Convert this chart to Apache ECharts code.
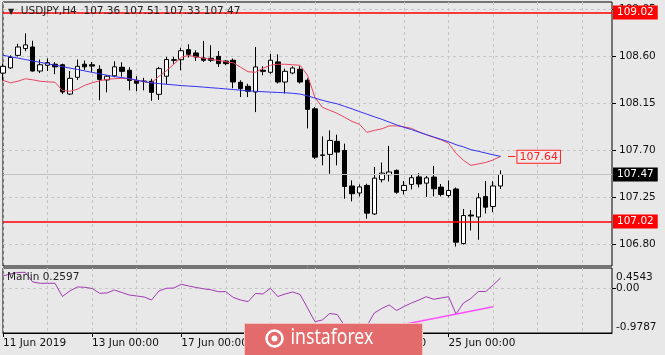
<!DOCTYPE html>
<html>
<head>
<meta charset="utf-8">
<script src="https://cdn.jsdelivr.net/npm/echarts@6/dist/echarts.min.js"></script>
<style>
  html, body { margin: 0; padding: 0; background: #e8e8e8; }
  #chart { width: 665px; height: 355px; }
</style>
</head>
<body>
<div id="chart"></div>
<script>
// USDJPY H4 candles
const open = [108.44, 108.49, 108.61, 108.675, 108.69, 108.46, 108.515, 108.525, 108.52, 108.24, 108.40, 108.525, 108.52, 108.477, 108.375, 108.414, 108.496, 108.467, 108.37, 108.364, 108.362, 108.237, 108.41, 108.568, 108.568, 108.664, 108.633, 108.585, 108.582, 108.60, 108.556, 108.563, 108.352, 108.314, 108.259, 108.467, 108.448, 108.547, 108.355, 108.441, 108.477, 108.371, 108.098, 107.657, 107.662, 107.787, 107.70, 107.36, 107.293, 107.365, 107.092, 107.42, 107.468, 107.509, 107.317, 107.375, 107.447, 107.387, 107.445, 107.349, 107.269, 107.331, 106.809, 107.082, 107.063, 107.26, 107.164, 107.36]
const close = [108.505, 108.59, 108.69, 108.71, 108.46, 108.52, 108.54, 108.50, 108.26, 108.39, 108.505, 108.50, 108.507, 108.38, 108.41, 108.50, 108.457, 108.37, 108.343, 108.359, 108.256, 108.483, 108.57, 108.563, 108.654, 108.62, 108.595, 108.563, 108.563, 108.531, 108.531, 108.355, 108.292, 108.266, 108.499, 108.457, 108.563, 108.355, 108.457, 108.489, 108.355, 108.093, 107.636, 107.653, 107.796, 107.684, 107.355, 107.286, 107.351, 107.10, 107.435, 107.483, 107.494, 107.30, 107.365, 107.439, 107.379, 107.437, 107.333, 107.279, 107.317, 106.822, 107.077, 107.073, 107.247, 107.157, 107.36, 107.47]
const high = [108.529, 108.61, 108.72, 108.82, 108.75, 108.57, 108.58, 108.545, 108.53, 108.46, 108.57, 108.56, 108.547, 108.515, 108.42, 108.553, 108.544, 108.496, 108.41, 108.395, 108.386, 108.50, 108.595, 108.595, 108.683, 108.716, 108.659, 108.748, 108.707, 108.652, 108.563, 108.579, 108.371, 108.338, 108.69, 108.505, 108.625, 108.62, 108.483, 108.505, 108.505, 108.39, 108.115, 107.835, 107.892, 107.851, 107.765, 107.413, 107.375, 107.381, 107.542, 107.585, 107.744, 107.518, 107.408, 107.47, 107.483, 107.456, 107.552, 107.379, 107.413, 107.346, 107.14, 107.13, 107.291, 107.408, 107.406, 107.51]
const low = [108.371, 108.48, 108.60, 108.65, 108.455, 108.44, 108.46, 108.43, 108.24, 108.23, 108.375, 108.47, 108.45, 108.18, 108.256, 108.40, 108.405, 108.275, 108.266, 108.275, 108.175, 108.184, 108.333, 108.53, 108.467, 108.59, 108.556, 108.547, 108.547, 108.499, 108.515, 108.295, 108.211, 108.211, 108.067, 108.42, 108.434, 108.34, 108.244, 108.429, 108.34, 107.911, 107.619, 107.557, 107.477, 107.557, 107.238, 107.212, 107.26, 107.046, 107.082, 107.394, 107.403, 107.286, 107.279, 107.327, 107.346, 107.255, 107.26, 107.26, 107.25, 106.78, 106.80, 106.934, 106.845, 107.097, 107.109, 107.33]

// moving averages (red = fast, blue = slow)
const maFast = [108.371, 108.347, 108.362, 108.386, 108.376, 108.362, 108.357, 108.352, 108.275, 108.266, 108.285, 108.323, 108.347, 108.366, 108.381, 108.386, 108.390, 108.386, 108.371, 108.357, 108.347, 108.410, 108.462, 108.525, 108.592, 108.609, 108.596, 108.582, 108.573, 108.561, 108.549, 108.539, 108.496, 108.453, 108.448, 108.486, 108.515, 108.525, 108.525, 108.520, 108.515, 108.419, 108.208, 108.113, 108.084, 108.055, 108.017, 107.978, 107.950, 107.873, 107.892, 107.907, 107.935, 107.935, 107.926, 107.911, 107.878, 107.849, 107.825, 107.801, 107.768, 107.672, 107.605, 107.557, 107.571, 107.585, 107.609, 107.643]
const maSlow = [108.611, 108.597, 108.584, 108.570, 108.556, 108.543, 108.529, 108.516, 108.502, 108.488, 108.475, 108.461, 108.447, 108.434, 108.420, 108.407, 108.397, 108.388, 108.373, 108.359, 108.347, 108.340, 108.333, 108.327, 108.321, 108.316, 108.312, 108.306, 108.300, 108.295, 108.289, 108.283, 108.276, 108.271, 108.266, 108.262, 108.258, 108.255, 108.252, 108.247, 108.239, 108.223, 108.201, 108.180, 108.162, 108.146, 108.122, 108.098, 108.072, 108.047, 108.022, 107.998, 107.971, 107.945, 107.921, 107.900, 107.875, 107.852, 107.829, 107.806, 107.783, 107.755, 107.734, 107.707, 107.692, 107.675, 107.658, 107.643]

// Marlin oscillator
const marlin = [0.309, 0.357, 0.394, 0.398, 0.163, 0.132, 0.132, 0.132, -0.189, -0.055, 0.042, 0.034, 0.005, -0.111, -0.104, -0.031, -0.092, -0.153, -0.177, -0.201, -0.274, -0.055, 0.010, 0.017, 0.107, 0.066, 0.030, -0.002, -0.026, -0.072, -0.072, -0.213, -0.274, -0.315, -0.116, -0.128, 0.010, -0.189, -0.128, -0.080, -0.140, -0.468, -0.801, -0.759, -0.602, -0.626, -0.905, -0.9787, -0.905, -0.905, -0.589, -0.480, -0.395, -0.529, -0.432, -0.347, -0.274, -0.194, -0.257, -0.225, -0.194, -0.614, -0.347, -0.237, -0.068, -0.068, 0.090, 0.2597]
const trendIdx = [51, 66]
const trendVal = [-0.975, -0.436]

// axes
const slotCount = 83
const timeLabels = ['11 Jun 2019', '13 Jun 00:00', '17 Jun 00:00', '19 Jun 00:00', '21 Jun 00:00', '25 Jun 00:00']
const labelStep = 12
const gridStep = 6
const priceTicks = [106.80, 107.25, 107.70, 108.15, 108.60, 109.05]
const marlinTicks = [0.4543, 0, -0.9787]
const priceRange = [106.5942, 109.1205]
const marlinRange = [-1.0758, 0.5028]

// horizontal levels
const upperLevel = 109.02
const lowerLevel = 107.02
const lastPrice = 107.47
const maCross = 107.64

const categories = []
for (let i = 0; i < slotCount; i++) {
  categories.push(i % labelStep === 0 && timeLabels[i / labelStep] ? timeLabels[i / labelStep] : '')
}
const candles = open.map((o, i) => [o, close[i], low[i], high[i]])

const font = 'DejaVu Sans'
const gridColor = '#c6c6c6'
const chart = echarts.init(document.getElementById('chart'))

// red support / resistance level with its price box on the axis
const redLevel = (v) => ({
  silent: true, symbol: ['none', 'none'], animation: false,
  lineStyle: { color: '#ff0000', width: 1.6, type: 'solid', opacity: 1 },
  label: {
    show: true, position: 'end', distance: 1, formatter: v.toFixed(2),
    backgroundColor: '#ff0000', color: '#fff', padding: [2, 4, 1, 4],
    fontFamily: font, fontSize: 10.5
  },
  data: [{ yAxis: v }]
})

chart.setOption({
  backgroundColor: '#e8e8e8',
  animation: false,
  textStyle: { fontFamily: font, fontSize: 10.5, color: '#111' },
  title: [
    {
      text: '{t|▼}  USDJPY,H4  107.36 107.51 107.33 107.47',
      left: 8, top: 6, padding: 0,
      textStyle: {
        fontFamily: font, fontSize: 10.5, fontWeight: 'normal', color: '#222',
        rich: { t: { fontSize: 8, color: '#222' } }
      }
    },
    {
      text: 'Marlin 0.2597',
      left: 7, top: 272, padding: 0,
      textStyle: { fontFamily: font, fontSize: 10.5, fontWeight: 'normal', color: '#222' }
    }
  ],
  grid: [
    { left: 3, top: 2, width: 609, height: 264, show: true, borderColor: '#000', borderWidth: 1 },
    { left: 3, top: 268, width: 609, height: 65, show: true, borderColor: '#000', borderWidth: 1 }
  ],
  xAxis: [
    {
      type: 'category', gridIndex: 0, data: categories, boundaryGap: false,
      axisLine: { show: false, onZero: false }, axisTick: { show: false }, axisLabel: { show: false },
      splitLine: { show: true, interval: (i) => i % gridStep === 0, lineStyle: { color: gridColor, type: [3, 3] } }
    },
    {
      type: 'category', gridIndex: 1, data: categories, boundaryGap: false,
      axisLine: { show: true, onZero: false, lineStyle: { color: '#000' } },
      axisTick: { show: true, length: 4, interval: (i, v) => v !== '', lineStyle: { color: '#000' } },
      axisLabel: { interval: (i, v) => v !== '', align: 'left', margin: 5, color: '#111', fontFamily: font, fontSize: 10.5 },
      splitLine: { show: true, interval: (i) => i % gridStep === 0, lineStyle: { color: gridColor, type: [3, 3] } }
    }
  ],
  yAxis: [
    {
      type: 'value', gridIndex: 0, position: 'right', min: priceRange[0], max: priceRange[1],
      axisLine: { show: false },
      axisTick: { show: true, length: 4, customValues: priceTicks, lineStyle: { color: '#000' } },
      axisLabel: { customValues: priceTicks, margin: 7, color: '#111', formatter: (v) => v.toFixed(2), fontFamily: font, fontSize: 10.5 },
      splitLine: { show: true, lineStyle: { color: gridColor, type: [3, 3] } }
    },
    {
      type: 'value', gridIndex: 1, position: 'right', min: marlinRange[0], max: marlinRange[1],
      axisLine: { show: false },
      axisTick: { show: true, length: 4, customValues: [0], lineStyle: { color: '#000' } },
      axisLabel: {
        customValues: marlinTicks, margin: 4, color: '#111', fontFamily: font, fontSize: 10.5,
        formatter: (v) => v > 0.1 ? '{top|' + v.toFixed(4) + '}' : v < -0.5 ? '{bot|' + v.toFixed(4) + '}' : v.toFixed(2),
        rich: { top: { padding: [14, 0, 0, 0] }, bot: { padding: [0, 0, 4, 0] } }
      },
      splitLine: { show: true, lineStyle: { color: gridColor, type: [3, 3] } }
    }
  ],
  series: [
    {
      type: 'candlestick', xAxisIndex: 0, yAxisIndex: 0, data: candles, barWidth: 5,
      itemStyle: { color: '#ffffff', color0: '#000000', borderColor: '#000', borderColor0: '#000', borderWidth: 1 },
      markLine: {
        silent: true, symbol: ['none', 'none'], animation: false,
        data: [
          {
            yAxis: lastPrice,
            lineStyle: { color: '#c2c2c2', width: 1, type: 'solid' },
            label: {
              show: true, position: 'end', distance: 1, formatter: lastPrice.toFixed(2),
              backgroundColor: '#000', color: '#fff', padding: [2, 4, 1, 4], fontFamily: font, fontSize: 10.5
            }
          }
        ]
      }
    },
    {
      type: 'line', xAxisIndex: 0, yAxisIndex: 0, data: maFast, symbol: 'none',
      lineStyle: { color: '#e8455f', width: 1 }, z: 3,
      markLine: redLevel(upperLevel)
    },
    {
      type: 'line', xAxisIndex: 0, yAxisIndex: 0, data: maSlow, symbol: 'none',
      lineStyle: { color: '#3232f0', width: 1 }, z: 3,
      markLine: redLevel(lowerLevel)
    },
    {
      // price label where the two averages meet
      type: 'line', xAxisIndex: 0, yAxisIndex: 0, data: [], symbol: 'none', z: 3,
      markLine: {
        silent: true, symbol: ['none', 'none'], animation: false,
        lineStyle: { color: '#ff2020', width: 1, type: 'solid' },
        label: {
          show: true, position: 'end', distance: 2, formatter: maCross.toFixed(2),
          color: '#ff2020', borderColor: '#ff2020', borderWidth: 1, backgroundColor: '#ececec',
          padding: [1, 2, 0, 2], fontFamily: font, fontSize: 11
        },
        data: [[{ coord: [68, maCross] }, { coord: [69, maCross] }]]
      }
    },
    {
      type: 'line', xAxisIndex: 1, yAxisIndex: 1, data: marlin, symbol: 'none',
      lineStyle: { color: '#a03cb0', width: 1 },
      markLine: {
        silent: true, symbol: ['none', 'none'], animation: false, label: { show: false },
        lineStyle: { color: '#ff50ff', width: 1.5, type: 'solid' },
        data: [[{ coord: [trendIdx[0], trendVal[0]] }, { coord: [trendIdx[1], trendVal[1]] }]]
      }
    }
  ],
  graphic: [
    {
      type: 'group', left: 244, top: 323, z: 100,
      children: [
        { type: 'rect', z: 100, shape: { x: 0, y: 0, width: 178, height: 40 }, style: { fill: '#e36b6b', stroke: '#f2c4c4', lineWidth: 1 } },
        { type: 'circle', z: 101, shape: { cx: 30, cy: 15, r: 8 }, style: { fill: 'none', stroke: '#fff', lineWidth: 2.5 } },
        { type: 'circle', z: 101, shape: { cx: 30, cy: 15, r: 3 }, style: { fill: '#fff' } },
        { type: 'text', z: 101, x: 46, y: 15, scaleX: 0.84, style: { text: 'instaforex', fill: '#fff', font: '21px "Noto Sans"', verticalAlign: 'middle' } }
      ]
    }
  ]
})
</script>
</body>
</html>
